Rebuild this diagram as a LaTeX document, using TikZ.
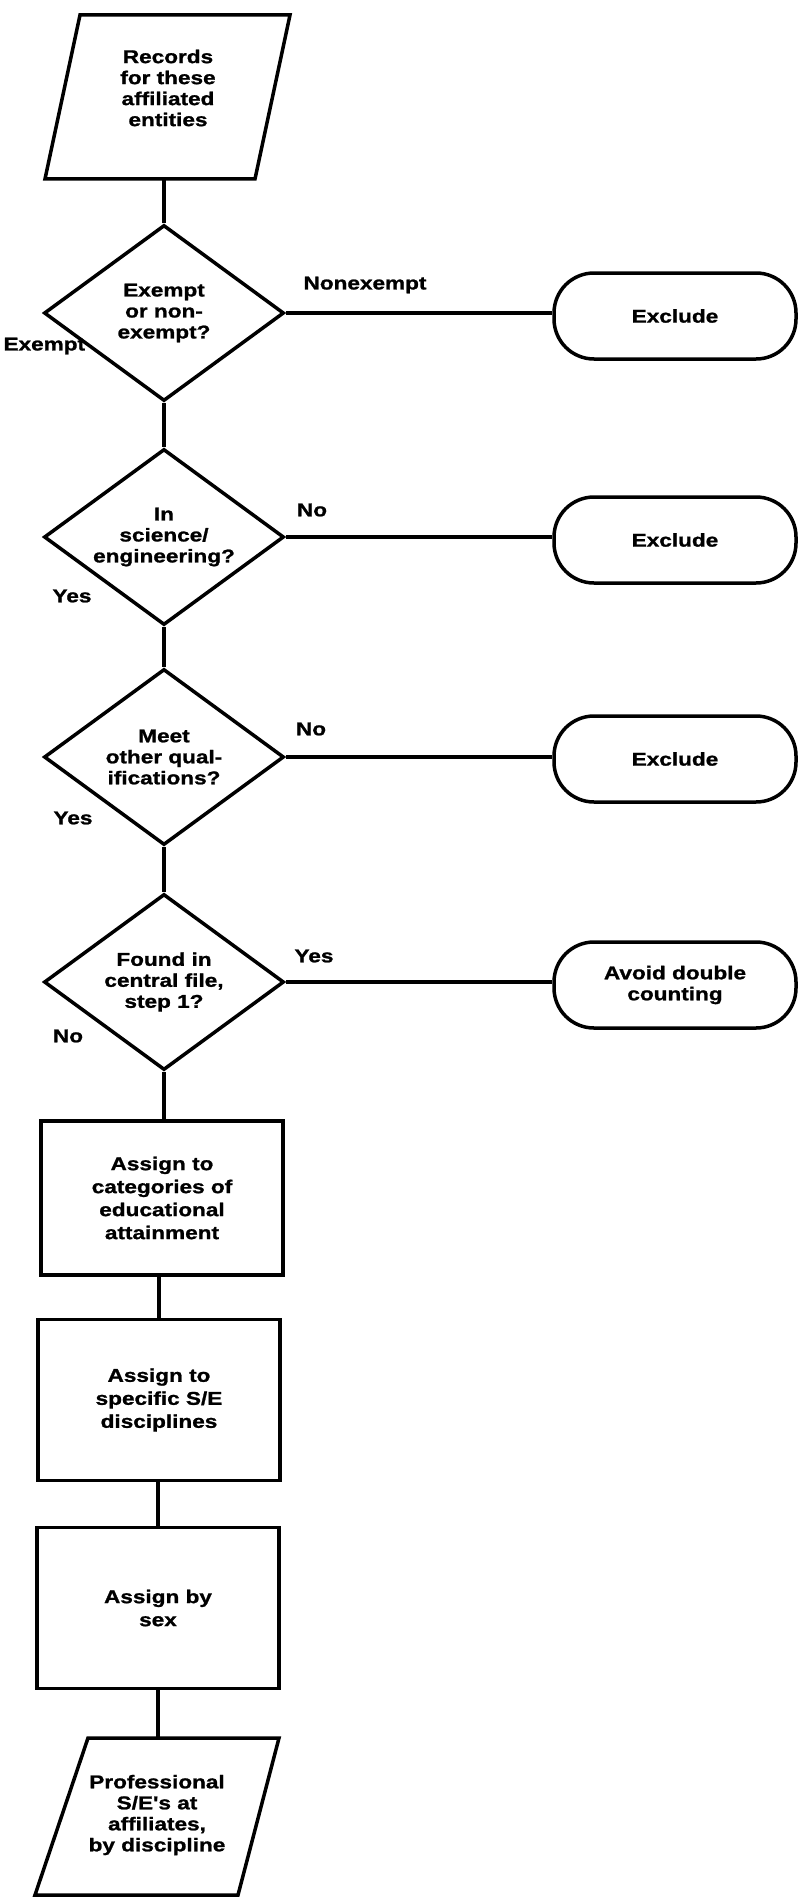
\documentclass[tikz,border=0pt]{standalone}
\usepackage{fontspec}
\newfontfamily\flowfont{Liberation Sans}[FakeStretch=1.22,FakeBold=1.2]
\usetikzlibrary{shapes.geometric}
\begin{document}
\begin{tikzpicture}[x=1pt,y=-1pt,
  txt/.style={font=\flowfont\bfseries\fontsize{18.5}{21}\selectfont, align=center},
  rtxt/.style={font=\flowfont\bfseries\fontsize{18.5}{23}\selectfont, align=center},
  box/.style={rtxt, draw, line width=3.5pt, minimum width=242pt, minimum height=158pt, inner sep=0pt},
  dec/.style={txt, draw, line width=3.5pt, diamond, aspect=1.36, minimum width=240pt, minimum height=176pt, inner sep=0pt},
  term/.style={txt, draw, line width=3.5pt, rounded corners=40pt, minimum width=242pt, minimum height=86pt, inner sep=0pt},
  iotext/.style={txt, inner sep=0pt},
  lbl/.style={txt},
  conn/.style={line width=3.5pt},
  outline/.style={line width=3.5pt, line join=miter}]
\fill[white] (0,0) rectangle (798,1897);
\useasboundingbox (0,0) rectangle (798,1897);

% input parallelogram
\draw[outline] (80,15) -- (290,15) -- (255,179) -- (45,179) -- cycle;
\node[iotext] (p1) at (168,88) {Records\\for these\\affiliated\\entities};
\coordinate (p1b) at (164,179);

\node[dec] (d1) at (164,313) {Exempt\\or non-\\exempt?};
\node[dec] (d2) at (164,537) {In\\science/\\engineering?};
\node[dec] (d3) at (164,757) {Meet\\other qual-\\ifications?};
\node[dec] (d4) at (164,982) {Found in\\central file,\\step 1?};

\node[term] (x1) at (675,316) {Exclude};
\node[term] (x2) at (675,540) {Exclude};
\node[term] (x3) at (675,759) {Exclude};
\node[term] (x4) at (675,985) {Avoid double\\counting};

\node[box, minimum height=154pt] (r1) at (162,1198) {Assign to\\categories of\\educational\\attainment};
\node[box, minimum height=161pt] (r2) at (159,1400) {Assign to\\specific S/E\\disciplines};
\node[box, minimum height=161pt] (r3) at (158,1608) {Assign by\\sex};

% output parallelogram
\draw[outline] (88,1738) -- (279,1738) -- (238,1895) -- (35,1895) -- cycle;
\node[iotext] (p2) at (157,1815) {Professional\\S/E's at\\affiliates,\\by discipline};
\coordinate (p2t) at (158,1738);

\node[lbl] (l1) at (365,285) {Nonexempt};
\node[lbl, anchor=west] (l2) at (0,346) {Exempt};
\node[lbl] (l3) at (312,510) {No};
\node[lbl] (l4) at (72,596) {Yes};
\node[lbl] (l5) at (311,729) {No};
\node[lbl] (l6) at (73,818) {Yes};
\node[lbl] (l7) at (314,956) {Yes};
\node[lbl] (l8) at (68,1036) {No};

\draw[conn] (d1.north) -- (p1b);
\draw[conn] (d1.east) -- (x1.west |- d1.east);
\draw[conn] (d1.south) -- (d2.north);
\draw[conn] (d2.east) -- (x2.west |- d2.east);
\draw[conn] (d2.south) -- (d3.north);
\draw[conn] (d3.east) -- (x3.west |- d3.east);
\draw[conn] (d3.south) -- (d4.north);
\draw[conn] (d4.east) -- (x4.west |- d4.east);
\draw[conn] (d4.south) -- (d4.south |- r1.north);
\draw[conn] (r1.south -| r2.north) -- (r2.north);
\draw[conn] (r2.south -| r3.north) -- (r3.north);
\draw[conn] (r3.south) -- (r3.south |- p2t);
\end{tikzpicture}
\end{document}
